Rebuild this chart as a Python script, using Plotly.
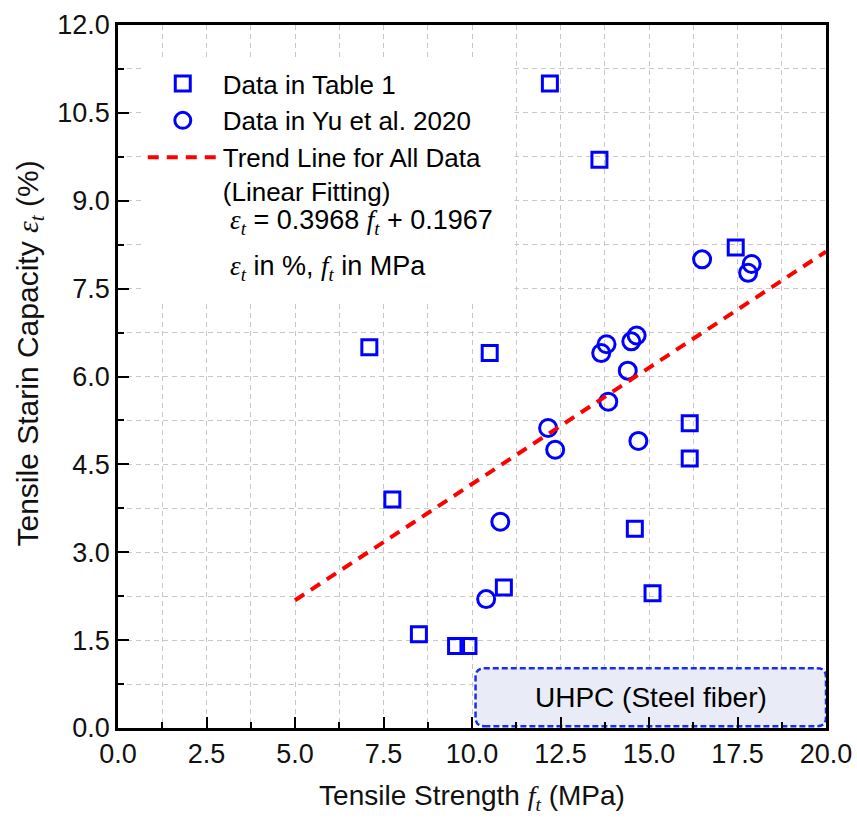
import plotly.graph_objects as go

# Tensile strength (MPa) and tensile strain capacity (%) of the specimens
table1_strength = [12.2, 13.6, 7.1, 10.5, 7.75, 16.15, 16.15, 14.6, 10.9, 15.1, 8.5, 9.55, 9.9, 17.45]
table1_strain = [11.0, 9.7, 6.5, 6.4, 3.9, 5.2, 4.6, 3.4, 2.4, 2.3, 1.6, 1.4, 1.4, 8.2]

yu2020_strength = [13.8, 13.65, 14.65, 14.5, 14.4, 13.85, 12.15, 12.35, 14.7, 10.8, 10.4, 16.5, 17.9, 17.8]
yu2020_strain = [6.55, 6.4, 6.7, 6.6, 6.1, 5.57, 5.12, 4.75, 4.9, 3.52, 2.2, 8.0, 7.92, 7.77]

# Linear fit over all data: eps_t = slope * f_t + intercept
fit_slope = 0.3968
fit_intercept = 0.1967
fit_range = [5.0, 20.0]
fit_strain = [fit_slope * v + fit_intercept for v in fit_range]

x_range = [0, 20]
y_range = [0, 12]

# Region label for steel-fibre UHPC
uhpc_x = [10.1, 20.0]
uhpc_y = [0.03, 1.02]
uhpc_label = "UHPC (Steel fiber)"

# White panel behind the legend block
panel_x = [0.7, 11.2]
panel_y = [7.26, 11.45]

BLUE = "#0000FF"
RED = "#FF0000"
FONT = "Liberation Sans, Arial, sans-serif"
SERIF_IT = "font-family:'Liberation Serif','Times New Roman',serif;font-style:italic"


def it(s):
    return f"<span style=\"{SERIF_IT}\">{s}</span>"


eps_t = it("ε") + "<sub>" + it("t") + "</sub>"
f_t = it("f") + "<sub>" + it("t") + "</sub>"

fig = go.Figure()

fig.add_trace(go.Scatter(
    x=table1_strength, y=table1_strain, mode="markers",
    name="Data in Table 1",
    marker=dict(symbol="square-open", size=15, color=BLUE, line=dict(width=3, color=BLUE)),
))
fig.add_trace(go.Scatter(
    x=yu2020_strength, y=yu2020_strain, mode="markers",
    name="Data in Yu et al. 2020",
    marker=dict(symbol="circle-open", size=17, color=BLUE, line=dict(width=3, color=BLUE)),
))
fig.add_trace(go.Scatter(
    x=fit_range, y=fit_strain, mode="lines",
    name="Trend Line for All Data<br>(Linear Fitting)",
    line=dict(color=RED, width=4, dash="11px,8px"),
))


def rounded_rect(x0, x1, y0, y1, rx, ry):
    return (f"M{x0+rx},{y0} L{x1-rx},{y0} Q{x1},{y0} {x1},{y0+ry} "
            f"L{x1},{y1-ry} Q{x1},{y1} {x1-rx},{y1} "
            f"L{x0+rx},{y1} Q{x0},{y1} {x0},{y1-ry} "
            f"L{x0},{y0+ry} Q{x0},{y0} {x0+rx},{y0} Z")


fig.add_shape(type="rect", xref="x", yref="y",
              x0=panel_x[0], x1=panel_x[1], y0=panel_y[0], y1=panel_y[1],
              fillcolor="white", line=dict(width=0), layer="between")
fig.add_shape(type="path", xref="x", yref="y",
              path=rounded_rect(uhpc_x[0], uhpc_x[1], uhpc_y[0], uhpc_y[1], 0.25, 0.15),
              fillcolor="#E9ECF7", line=dict(color="#1A2EF0", width=2.5, dash="6px,3px"),
              layer="between")

fig.add_annotation(x=sum(uhpc_x) / 2, y=sum(uhpc_y) / 2, xref="x", yref="y",
                   text=uhpc_label, showarrow=False,
                   font=dict(family=FONT, size=28, color="black"))

eq_lines = [
    eps_t + " = 0.3968 " + f_t + " + 0.1967",
    eps_t + " in %, " + f_t + " in MPa",
]
for text, ypos in zip(eq_lines, [0.72, 0.654]):
    fig.add_annotation(x=0.1554, y=ypos, xref="paper", yref="paper",
                       xanchor="left", yanchor="middle", text=text, showarrow=False,
                       font=dict(family=FONT, size=27, color="black"))

# Y-axis title, placed as rotated text beside the axis
fig.add_annotation(x=-0.124, y=0.533, xref="paper", yref="paper",
                   xanchor="center", yanchor="middle", textangle=-90,
                   text="Tensile Starin Capacity " + eps_t + " (%)", showarrow=False,
                   font=dict(family=FONT, size=30, color="#111111"))

axis_common = dict(
    showline=True, linewidth=2.5, linecolor="black", mirror=True,
    ticks="inside", tickwidth=2, tickcolor="black", ticklen=11,
    tickfont=dict(family=FONT, size=27, color="#111111"),
    showgrid=True, gridcolor="#C8C8C8", gridwidth=1, griddash="5px,4px",
    zeroline=False, tickformat=".1f", automargin=False,
)

fig.update_xaxes(
    range=x_range, tick0=0, dtick=2.5,
    minor=dict(dtick=1.25, ticks="inside", ticklen=6, tickwidth=2, tickcolor="black",
               showgrid=True, gridcolor="#C8C8C8", gridwidth=1, griddash="5px,4px"),
    title=dict(text="Tensile Strength " + f_t + " (MPa)",
               font=dict(family=FONT, size=28, color="#111111"), standoff=18),
    **axis_common,
)
fig.update_yaxes(
    range=y_range, tick0=0, dtick=1.5,
    minor=dict(dtick=0.75, ticks="inside", ticklen=6, tickwidth=2, tickcolor="black",
               showgrid=True, gridcolor="#C8C8C8", gridwidth=1, griddash="5px,4px"),
    **axis_common,
)

fig.update_layout(
    width=857, height=819,
    margin=dict(l=118, r=31, t=25, b=91),
    paper_bgcolor="white", plot_bgcolor="white",
    font=dict(family=FONT, color="black"),
    showlegend=True,
    legend=dict(x=0.035, y=0.950, xanchor="left", yanchor="top",
                bgcolor="rgba(0,0,0,0)", borderwidth=0,
                font=dict(family=FONT, size=26, color="black"),
                itemwidth=70, valign="top", tracegroupgap=0),
)

fig.write_html("out.html")
